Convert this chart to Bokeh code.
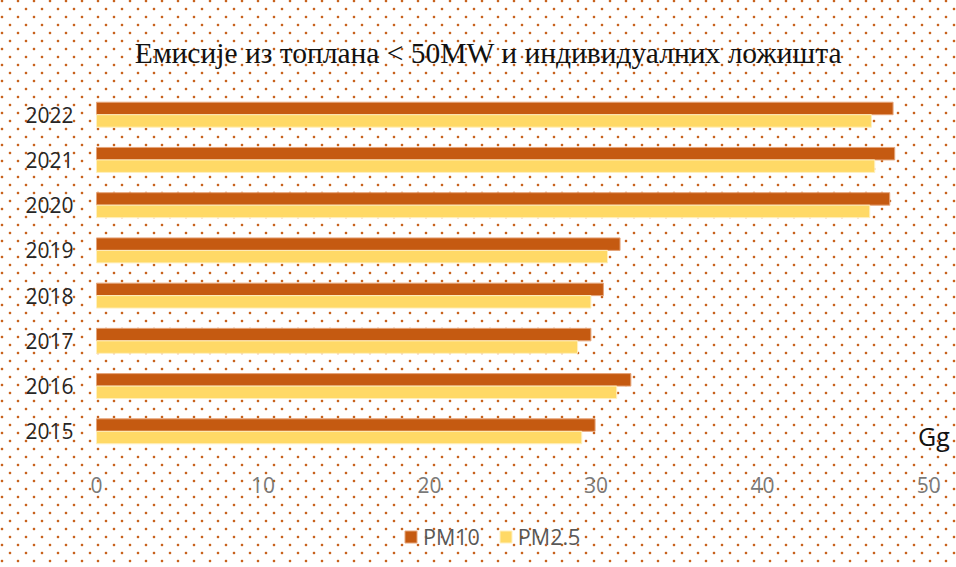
from bokeh.plotting import figure
from bokeh.models import ColumnDataSource, Range1d, Legend, LegendItem, Label, FixedTicker
from bokeh.transform import dodge
from bokeh.embed import file_html
from bokeh.resources import INLINE

years = [2015, 2016, 2017, 2018, 2019, 2020, 2021, 2022]
pm10 = [29.95, 32.1, 29.7, 30.45, 31.45, 47.65, 47.95, 47.85]
pm25 = [29.15, 31.25, 28.9, 29.7, 30.7, 46.45, 46.75, 46.55]
x_ticks = [0, 10, 20, 30, 40, 50]
title_text = "Емисије из топлана < 50MW и индивидуалних ложишта"
unit_text = "Gg"
series_names = ["PM10", "PM2.5"]
colors = ["#c55a11", "#ffd966"]

src = ColumnDataSource(dict(year=years, pm10=pm10, pm25=pm25))

p = figure(width=956, height=567, output_backend="svg", toolbar_location=None,
           y_range=Range1d(2011.989, 2024.525),
           x_range=Range1d(-0.961, 51.66),
           min_border_left=80, min_border_right=0, min_border_top=0, min_border_bottom=0)

p.background_fill_alpha = 0
p.border_fill_alpha = 0
p.outline_line_color = None
p.xgrid.visible = False
p.ygrid.visible = False

dot = "radial-gradient(circle, rgba(197,90,17,0.95) 1.0px, rgba(197,90,17,0) 1.7px)"
p.styles = {
    "background-image": dot + ", " + dot,
    "background-size": "16px 16px",
    "background-position": "-6px -7px, 2px 1px",
}

r1 = p.hbar(y=dodge("year", 0.138), right="pm10", left=0, height=0.276,
            source=src, fill_color=colors[0], line_color="#e6a57a", line_width=1)
r2 = p.hbar(y=dodge("year", -0.138), right="pm25", left=0, height=0.276,
            source=src, fill_color=colors[1], line_color="#fff0c0", line_width=1)

# x axis drawn just below the last category
p.xaxis.fixed_location = years[0] - 0.5
p.xaxis.ticker = FixedTicker(ticks=x_ticks)
p.xaxis.axis_line_color = None
p.xaxis.major_tick_line_color = None
p.xaxis.minor_tick_line_color = None
p.xaxis.major_label_standoff = 17
p.xaxis.major_label_text_font = "Open Sans"
p.xaxis.major_label_text_font_size = "21px"
p.xaxis.major_label_text_color = "#7a7a7a"

p.yaxis.ticker = FixedTicker(ticks=years)
p.yaxis.axis_line_color = None
p.yaxis.major_tick_line_color = None
p.yaxis.minor_tick_line_color = None
p.yaxis.major_label_standoff = 1
p.yaxis.major_label_text_font = "Open Sans"
p.yaxis.major_label_text_font_size = "21px"
p.yaxis.major_label_text_color = "#262626"

# title
p.add_layout(Label(x=408, y=515, x_units="screen", y_units="screen", text=title_text,
                   text_font="Liberation Serif", text_font_size="29.5px",
                   text_color="#111111", text_align="center", text_baseline="alphabetic"))

# unit label next to the last category
p.add_layout(Label(x=50, y=years[0], text=unit_text, text_font="Open Sans", text_font_size="25px",
                   text_color="#111111", text_align="center", text_baseline="middle",
                   x_offset=5, y_offset=-5))

legend = Legend(items=[LegendItem(label=series_names[0], renderers=[r1]),
                       LegendItem(label=series_names[1], renderers=[r2])],
                orientation="horizontal", location=(323, 16),
                label_text_font="Open Sans", label_text_font_size="21.5px",
                label_text_color="#595959", glyph_width=15, glyph_height=15,
                label_standoff=5, spacing=18, border_line_color=None,
                background_fill_alpha=0, margin=0, padding=0)
p.add_layout(legend)

open("out.html", "w").write(file_html(p, INLINE))
